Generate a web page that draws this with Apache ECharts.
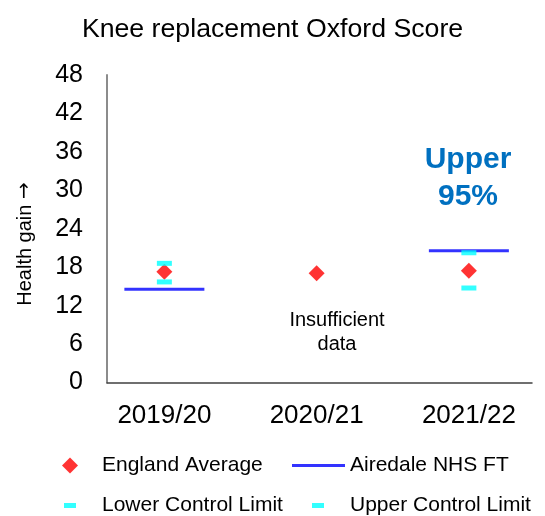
<!DOCTYPE html>
<html><head><meta charset="utf-8">
<script src="https://cdn.jsdelivr.net/npm/echarts@6/dist/echarts.min.js"></script>
<style>html,body{margin:0;padding:0;background:#fff}#c{width:545px;height:516px}</style>
</head><body><div id="c"></div><script>
const categories = ['2019/20', '2020/21', '2021/22'];
const englandAverage = [17.3, 17.05, 17.45];
const airedale = [14.55, null, 20.55];
const lowerControlLimit = [15.7, null, 14.75];
const upperControlLimit = [18.6, null, 20.25];
const yMin = 0, yMax = 48, yInterval = 6;

const FONT = 'Liberation Sans, Arial, sans-serif';
const chart = echarts.init(document.getElementById('c'), null, {renderer: 'canvas'});

const legendBase = (name, left, top, icon, w, h, pad) => ({
  data: [{name: name, icon: icon}],
  left: left, top: top, itemWidth: w, itemHeight: h,
  selectedMode: false, padding: 0,
  textStyle: {fontFamily: FONT, fontSize: 21, color: '#000', padding: [0, 0, 0, pad]}
});

chart.setOption({
  animation: false,
  backgroundColor: '#fff',
  title: {
    text: 'Knee replacement Oxford Score', left: 'center', top: 11,
    textStyle: {fontFamily: FONT, fontSize: 26.7, fontWeight: 'normal', color: '#000'}
  },
  legend: [
    legendBase('England Average', 62, 455, 'diamond', 16, 16, 19),
    legendBase('Airedale NHS FT', 292, 455, 'rect', 53, 3, 0),
    legendBase('Lower Control Limit', 64, 495, 'rect', 12, 5, 21),
    legendBase('Upper Control Limit', 312, 495, 'rect', 12, 5, 21)
  ],
  grid: [
    {left: 107, right: 13, top: 75, height: 307.5},
    {left: 88.25, width: 460.5, top: 75, height: 307.5}
  ],
  xAxis: [
    {gridIndex: 0, type: 'value', min: 0, max: 1,
     axisLine: {show: true, lineStyle: {color: '#404040', width: 1.5}},
     axisTick: {show: false}, axisLabel: {show: false}, splitLine: {show: false}},
    {gridIndex: 1, type: 'category', data: categories,
     axisLine: {show: false}, axisTick: {show: false}, splitLine: {show: false},
     axisLabel: {fontFamily: FONT, fontSize: 26, color: '#000', margin: 20}}
  ],
  yAxis: [
    {gridIndex: 0, type: 'value', min: yMin, max: yMax, interval: yInterval,
     axisLine: {show: true, lineStyle: {color: '#8c8c8c', width: 2}},
     axisTick: {show: false}, splitLine: {show: false},
     axisLabel: {fontFamily: FONT, fontSize: 25, color: '#000', margin: 24}},
    {gridIndex: 1, type: 'value', min: yMin, max: yMax, interval: yInterval, show: false,
     splitLine: {show: false}}
  ],
  graphic: [
    {type: 'text', x: 25, y: 244, rotation: Math.PI / 2,
     style: {text: 'Health gain {a|\u2192}', font: '20px ' + FONT, fill: '#000', align: 'center', verticalAlign: 'middle',
             rich: {a: {fontFamily: 'DejaVu Sans', fontSize: 20, fill: '#000'}}}},
    {type: 'text', x: 468, y: 178,
     style: {text: 'Upper\n95%', font: 'bold 30px ' + FONT, fill: '#0070C0', align: 'center', verticalAlign: 'middle', lineHeight: 37}},
    {type: 'text', x: 337, y: 332,
     style: {text: 'Insufficient\ndata', font: '20px ' + FONT, fill: '#000', align: 'center', verticalAlign: 'middle', lineHeight: 24}}
  ],
  series: [
    {name: 'Airedale NHS FT', type: 'scatter', xAxisIndex: 1, yAxisIndex: 1,
     symbol: 'rect', symbolSize: [80, 3], itemStyle: {color: '#0000FF'}, data: airedale, z: 2},
    {name: 'England Average', type: 'scatter', xAxisIndex: 1, yAxisIndex: 1,
     symbol: 'diamond', symbolSize: [16, 16], itemStyle: {color: '#FF0000'}, data: englandAverage, z: 3},
    {name: 'Lower Control Limit', type: 'scatter', xAxisIndex: 1, yAxisIndex: 1,
     symbol: 'rect', symbolSize: [15, 5], itemStyle: {color: '#00FFFF'}, data: lowerControlLimit, z: 4},
    {name: 'Upper Control Limit', type: 'scatter', xAxisIndex: 1, yAxisIndex: 1,
     symbol: 'rect', symbolSize: [15, 5], itemStyle: {color: '#00FFFF'}, data: upperControlLimit, z: 4}
  ]
});
</script></body></html>
